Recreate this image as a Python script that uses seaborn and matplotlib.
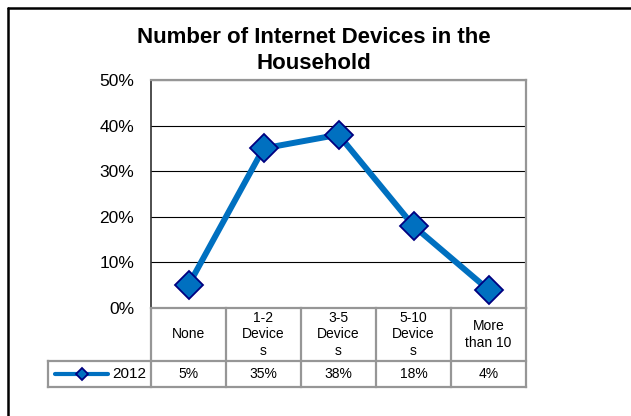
import matplotlib
matplotlib.use("Agg")
import matplotlib.pyplot as plt
from matplotlib.lines import Line2D
from matplotlib.transforms import blended_transform_factory
import seaborn as sns
import pandas as pd

# Survey results: share of households by number of internet devices
categories = ["None", "1-2\nDevice\ns", "3-5\nDevice\ns", "5-10\nDevice\ns", "More\nthan 10"]
values_2012 = [5, 35, 38, 18, 4]
series_name = "2012"
y_ticks = [0, 10, 20, 30, 40, 50]
title = "Number of Internet Devices in the\nHousehold"

LINE_BLUE = "#0070C0"
EDGE_NAVY = "#000080"
GRID_GREY = "#969696"

sns.set_style("white")
plt.rcParams["font.family"] = ["Liberation Sans", "DejaVu Sans"]
plt.rcParams["text.color"] = "black"
plt.rcParams["ytick.labelcolor"] = "black"

df = pd.DataFrame({"pos": range(len(categories)), "share": values_2012})

W, H = 631, 416
fig = plt.figure(figsize=(W / 100, H / 100), dpi=100)

# plot area placed in pixel terms
px_left, px_right, px_top, px_bottom = 151, 526, 80, 308
ax = fig.add_axes([px_left / W, 1 - px_bottom / H,
                   (px_right - px_left) / W, (px_bottom - px_top) / H])

def ax_x(px):
    return (px - px_left) / (px_right - px_left)

def ax_y(py):
    return (px_bottom - py) / (px_bottom - px_top)

sns.lineplot(data=df, x="pos", y="share", ax=ax, color=LINE_BLUE, lw=4.3,
             marker="D", markersize=14, markerfacecolor=LINE_BLUE,
             markeredgecolor=EDGE_NAVY, markeredgewidth=1.3, zorder=5)

ax.set_xlim(-0.5, len(categories) - 0.5)
ax.set_ylim(y_ticks[0], y_ticks[-1])
ax.set_yticks(y_ticks)
ax.set_yticklabels([f"{t}%" for t in y_ticks], fontsize=12.5)
ax.set_xticks([])
ax.set_xlabel("")
ax.set_ylabel("")
ax.tick_params(axis="y", direction="out", length=4, width=1, color="#303030", pad=8)

ax.yaxis.grid(True, color="black", lw=0.8)
ax.set_axisbelow(True)
for side in ["top", "right", "bottom"]:
    ax.spines[side].set_color(GRID_GREY)
    ax.spines[side].set_linewidth(1.6)
ax.spines["left"].set_color("#303030")
ax.spines["left"].set_linewidth(1.2)

# data table below the plot area
tr = blended_transform_factory(ax.transData, ax.transAxes)
hdr_bot = ax_y(361)
row_bot = ax_y(387)
leg_left = ax_x(48)
n = len(categories)
bounds = [i - 0.5 for i in range(n + 1)]
tbl_kw = dict(color=GRID_GREY, lw=1.6, clip_on=False, solid_capstyle="projecting")
for b in bounds:
    ax.add_line(Line2D([b, b], [0, row_bot], transform=tr, **tbl_kw))
ax.add_line(Line2D([leg_left, leg_left], [hdr_bot, row_bot], transform=ax.transAxes, **tbl_kw))
for yy in (hdr_bot, row_bot):
    ax.add_line(Line2D([leg_left, 1], [yy, yy], transform=ax.transAxes, **tbl_kw))

for i, (cat, v) in enumerate(zip(categories, values_2012)):
    ax.text(i, hdr_bot / 2, cat, transform=tr, ha="center", va="center",
            fontsize=10, linespacing=1.25)
    ax.text(i, (hdr_bot + row_bot) / 2, f"{v}%", transform=tr, ha="center",
            va="center", fontsize=10)

# legend key in the row header cell
key_y = (hdr_bot + row_bot) / 2
ax.add_line(Line2D([ax_x(55), ax_x(108)], [key_y, key_y], transform=ax.transAxes,
                   color=LINE_BLUE, lw=3, clip_on=False))
ax.add_line(Line2D([ax_x(82)], [key_y], transform=ax.transAxes, marker="D",
                   markersize=6, markerfacecolor=LINE_BLUE, markeredgecolor=EDGE_NAVY,
                   markeredgewidth=1.3, clip_on=False))
ax.text(ax_x(112), key_y, series_name, transform=ax.transAxes, ha="left",
        va="center", fontsize=11)

fig.text(314 / W, 1 - 50.5 / H, title, ha="center", va="center", fontsize=16,
         fontweight="bold", linespacing=1.27)

# outer chart frame
fig.add_artist(Line2D([8 / W, 8 / W], [1 - 8 / H, 0], transform=fig.transFigure,
                      color="black", lw=1.8))
fig.add_artist(Line2D([8 / W, 1], [1 - 8 / H, 1 - 8 / H], transform=fig.transFigure,
                      color="black", lw=1.8))

fig.savefig("out.png", dpi=100)
